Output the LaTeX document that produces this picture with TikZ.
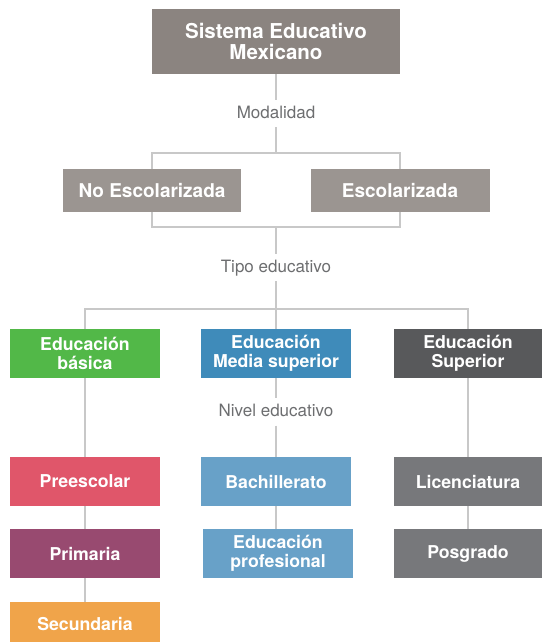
\documentclass[tikz,border=0pt]{standalone}
\usepackage{fontspec}
\setmainfont{TeX Gyre Heros}
\definecolor{topgray}{HTML}{8B8480}
\definecolor{modgray}{HTML}{9B9591}
\definecolor{cgreen}{HTML}{52B848}
\definecolor{cblue}{HTML}{3F8BBA}
\definecolor{cdark}{HTML}{58595B}
\definecolor{cred}{HTML}{E0566A}
\definecolor{cpurple}{HTML}{984A70}
\definecolor{corange}{HTML}{F0A44A}
\definecolor{clblue}{HTML}{68A1C8}
\definecolor{cmgray}{HTML}{77787B}
\definecolor{linegray}{HTML}{C8C8C8}
\definecolor{labelgray}{HTML}{6D6E70}
\begin{document}
\begin{tikzpicture}[x=1pt,y=-1pt,
  box/.style={rectangle, inner sep=0pt, text=white, align=center,
    font=\fontsize{17.7}{19}\selectfont\bfseries},
  twoline/.style={text depth=3pt},
  lbl/.style={rectangle, fill=white, inner xsep=2pt, inner ysep=5.5pt,
    text height=12.5pt, text depth=3.5pt, text=labelgray,
    font=\fontsize{17}{19}\selectfont},
  conn/.style={draw=linegray, line width=1.2pt}]
\useasboundingbox (0,0) rectangle (541,642);
% boxes
\node[box, fill=topgray, minimum width=248pt, minimum height=65pt,
  font=\fontsize{20.5}{21}\selectfont\bfseries] (top) at (276,41.5) {Sistema Educativo\\Mexicano};
\node[box, fill=modgray, minimum width=178pt, minimum height=43pt,
  font=\fontsize{19}{20}\selectfont\bfseries] (noesc) at (152,190.5) {No Escolarizada};
\node[box, fill=modgray, minimum width=179pt, minimum height=43pt,
  font=\fontsize{19}{20}\selectfont\bfseries] (esc) at (400,190.5) {Escolarizada};
\node[box, fill=cgreen, minimum width=150pt, minimum height=49pt] (basica) at (85,353.5) {Educación\\básica};
\node[box, fill=cblue, minimum width=150pt, minimum height=49pt] (media) at (276,353.5) {Educación\\Media superior};
\node[box, fill=cdark, minimum width=148pt, minimum height=49pt] (superior) at (468,353.5) {Educación\\Superior};
\node[box, fill=cred, minimum width=150pt, minimum height=49pt] (pre) at (85,481.5) {Preescolar};
\node[box, fill=clblue, minimum width=150pt, minimum height=49pt] (bach) at (276,481.5) {Bachillerato};
\node[box, fill=cmgray, minimum width=148pt, minimum height=49pt] (lic) at (468,481.5) {Licenciatura};
\node[box, fill=cpurple, minimum width=150pt, minimum height=49pt] (prim) at (85,553.5) {Primaria};
\node[box, fill=clblue, minimum width=150pt, minimum height=49pt] (prof) at (278,553.5) {Educación\\profesional};
\node[box, fill=cmgray, minimum width=148pt, minimum height=49pt] (pos) at (468,553.5) {Posgrado};
\node[box, fill=corange, minimum width=150pt, minimum height=44pt] (sec) at (85,624) {Secundaria};
% labels
\node[lbl] (mod) at (276,113.5) {Modalidad};
\node[lbl] (tipo) at (276,267.5) {Tipo educativo};
\node[lbl] (nivel) at (276,412) {Nivel educativo};
% junctions
\coordinate (b1c) at (276,153);
\coordinate (b2c) at (276,227);
\coordinate (b3c) at (276,309);
% connectors
\draw[conn] (top) -- (mod);
\draw[conn] (mod) -- (b1c);
\draw[conn] (noesc.north) |- (b1c) -| (esc.north);
\draw[conn] (noesc.south) |- (b2c) -| (esc.south);
\draw[conn] (b2c) -- (tipo);
\draw[conn] (tipo) -- (b3c);
\draw[conn] (basica.north) |- (b3c) -| (superior.north);
\draw[conn] (b3c) -- (media.north);
\draw[conn] (basica) -- (pre);
\draw[conn] (pre) -- (prim);
\draw[conn] (prim) -- (sec);
\draw[conn] (media) -- (nivel);
\draw[conn] (nivel) -- (bach);
\draw[conn] (bach.south) -- (bach.south |- prof.north);
\draw[conn] (superior) -- (lic);
\draw[conn] (lic) -- (pos);
\end{tikzpicture}
\end{document}
